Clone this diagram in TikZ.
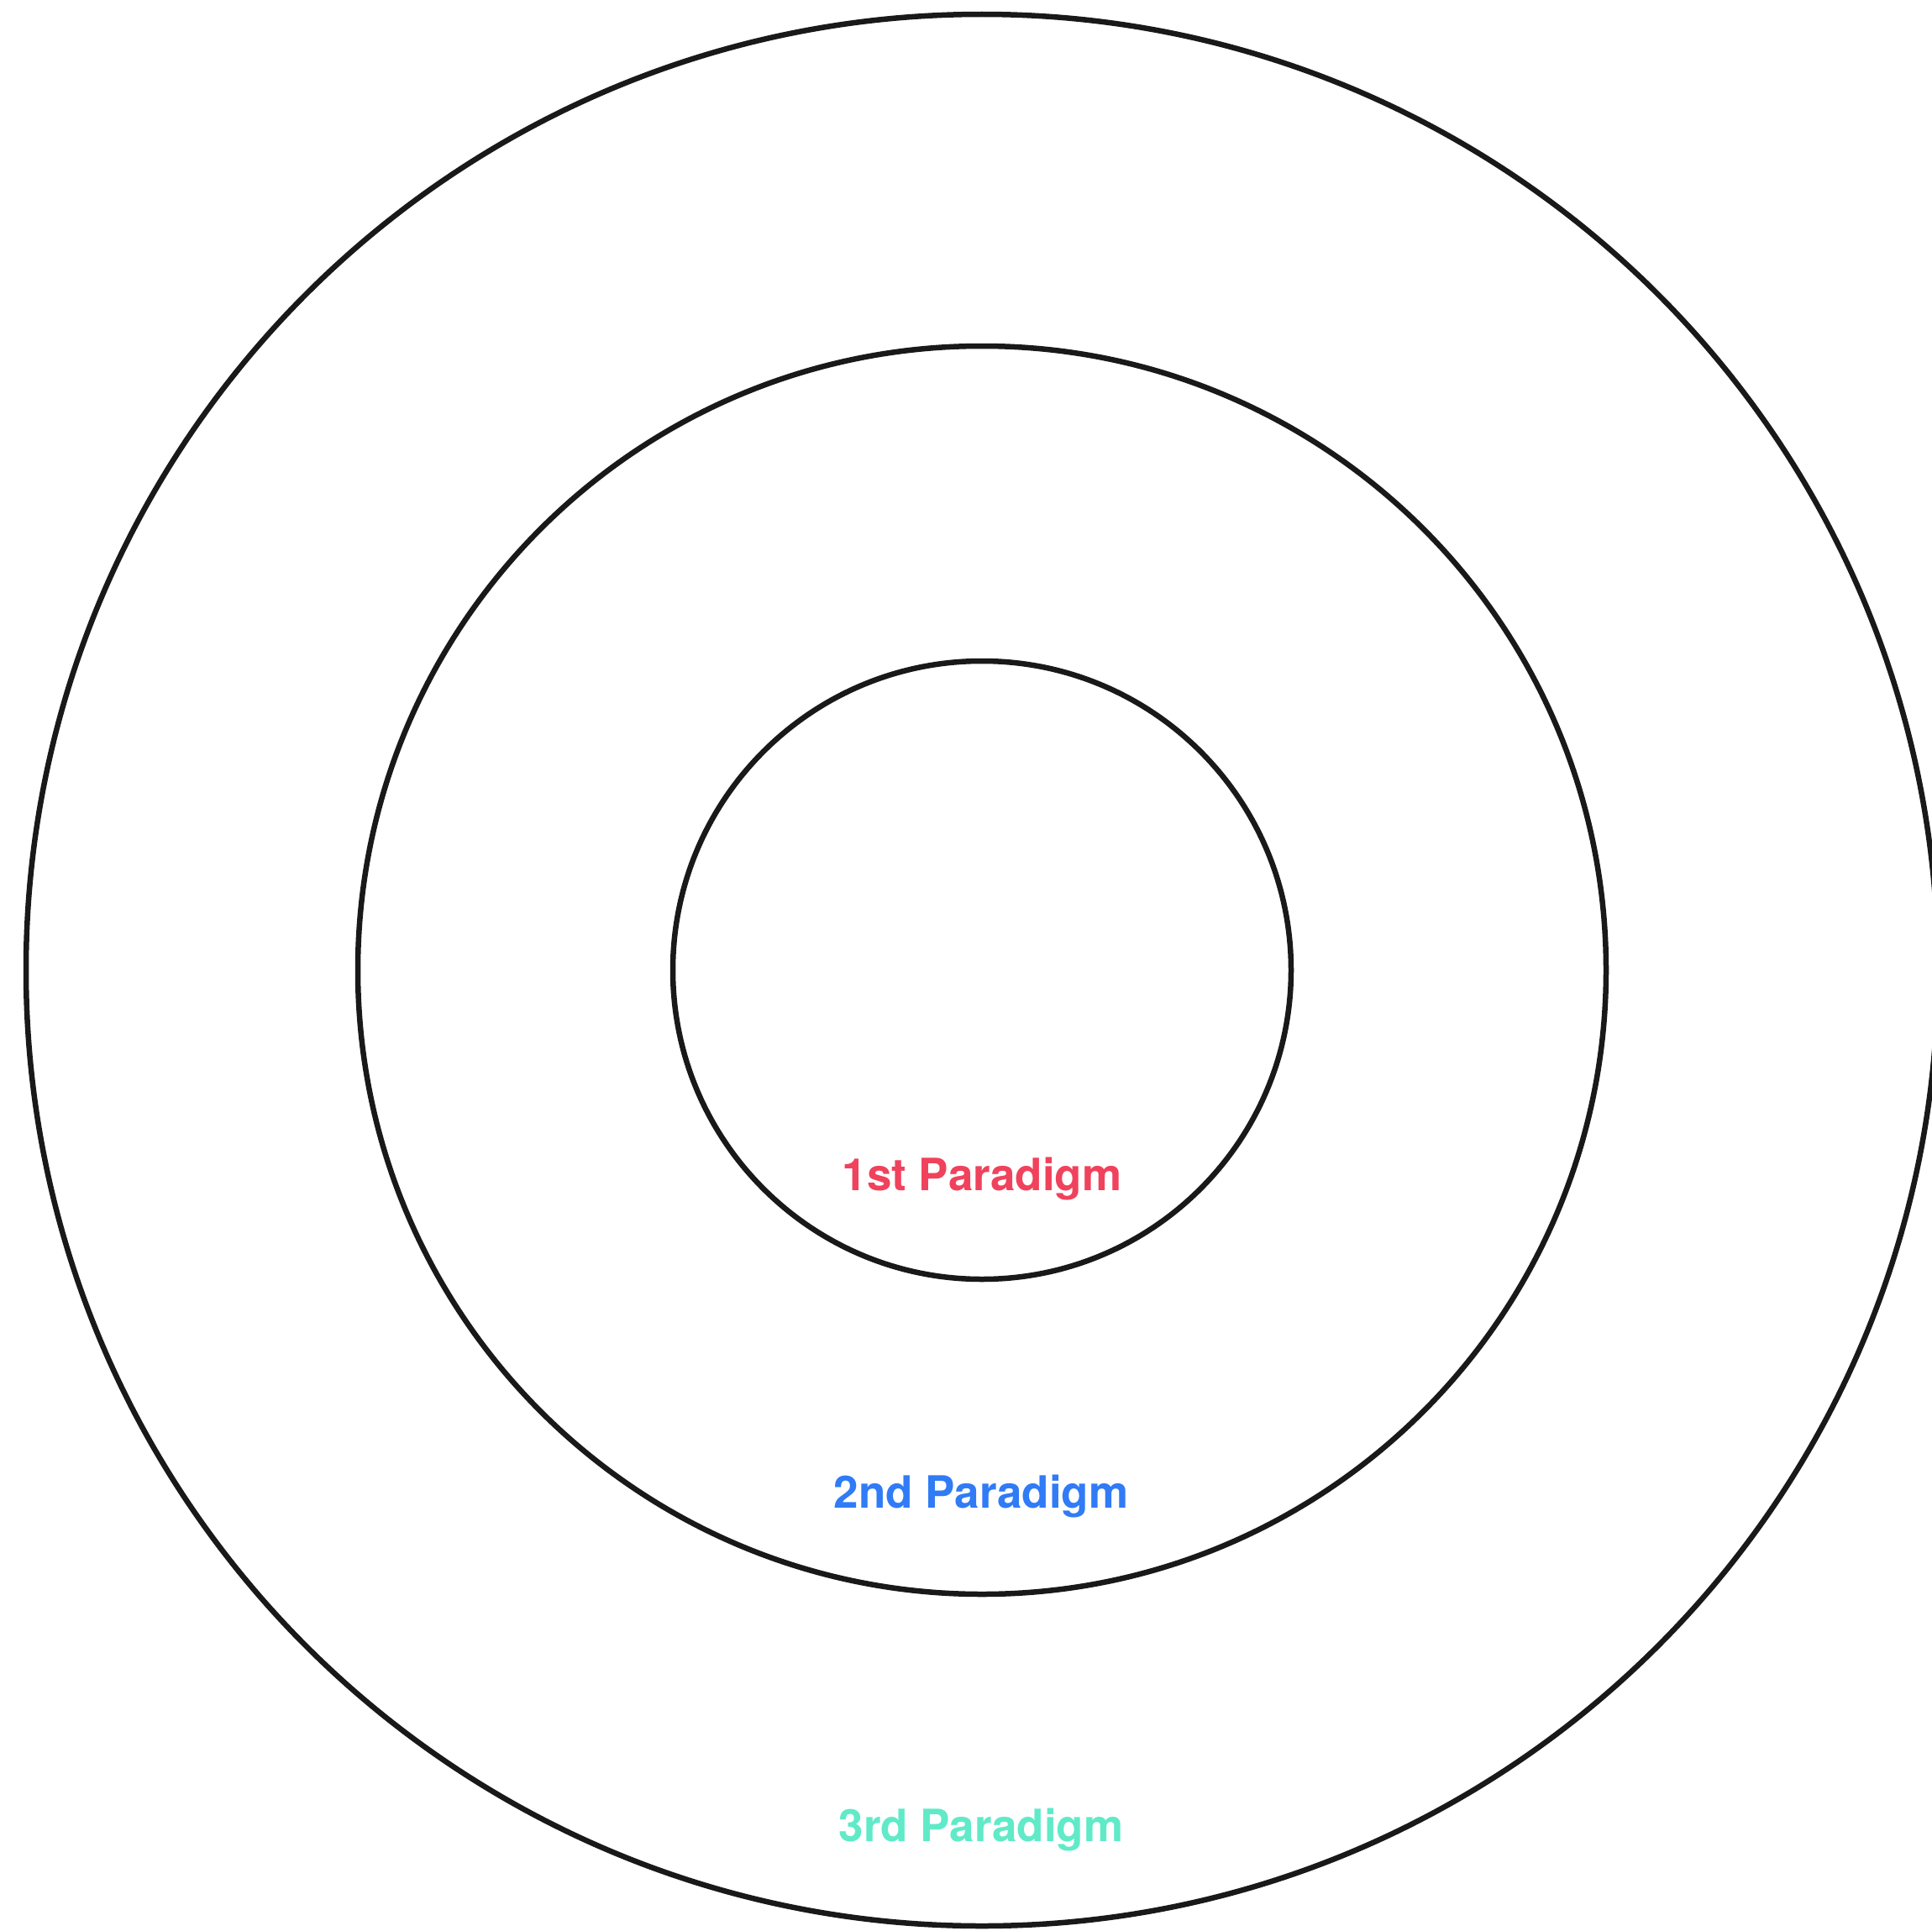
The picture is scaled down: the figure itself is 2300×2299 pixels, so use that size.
\documentclass[tikz,border=0pt]{standalone}
\usepackage{fontspec}
\setmainfont{TeX Gyre Heros}
\definecolor{pred}{RGB}{240,66,92}
\definecolor{pblue}{RGB}{48,123,246}
\definecolor{pteal}{RGB}{96,234,200}
\begin{document}
\begin{tikzpicture}[x=1pt,y=-1pt,
  ring/.style={draw=black!90,line width=6.5pt},
  lab/.style={anchor=base,inner sep=0pt,font=\fontsize{53}{60}\selectfont\bfseries}]
\useasboundingbox (0,0) rectangle (2300,2299);
\coordinate (c) at (1169,1155);
\draw[ring] (c) circle[radius=1138];
\draw[ring] (c) circle[radius=743];
\draw[ring] (c) circle[radius=368];
\node[lab,text=pred] (l1) at (1169,1417) {1st Paradigm};
\node[lab,text=pblue] (l2) at (1168,1795) {2nd Paradigm};
\node[lab,text=pteal] (l3) at (1168,2192) {3rd Paradigm};
\end{tikzpicture}
\end{document}
